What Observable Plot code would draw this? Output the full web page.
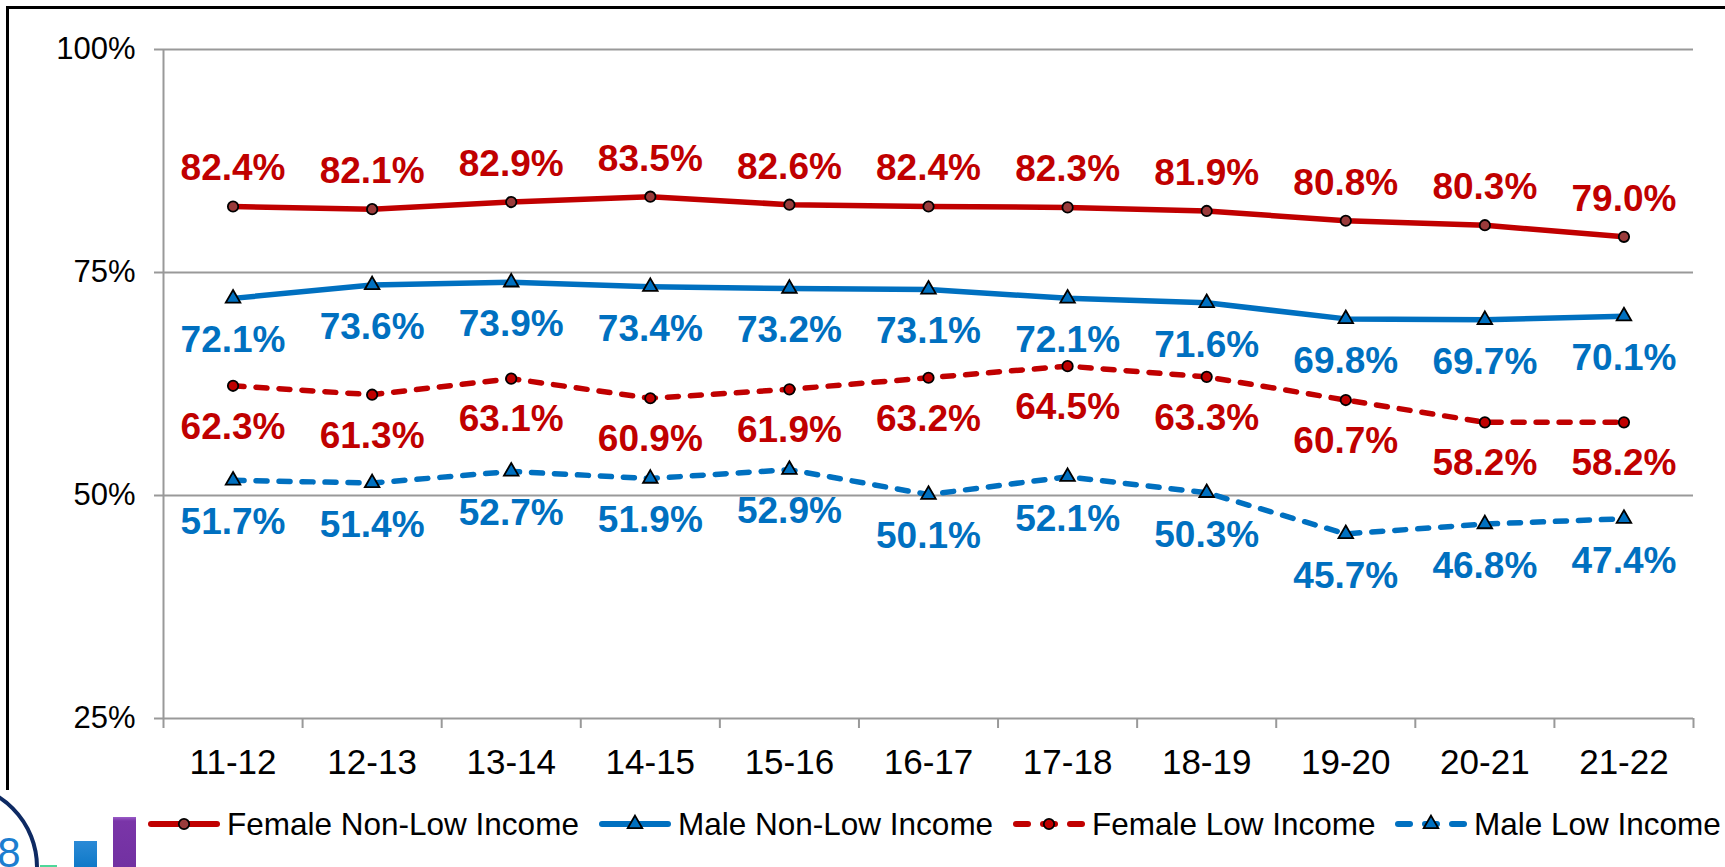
<!DOCTYPE html>
<html>
<head>
<meta charset="utf-8">
<script src="https://cdn.jsdelivr.net/npm/d3@7"></script>
<script src="https://cdn.jsdelivr.net/npm/@observablehq/plot@0.6"></script>
<style>
  body { margin: 0; background: #fff; }
  #wrap { position: relative; width: 1725px; height: 867px; overflow: hidden; font-family: "Liberation Sans", Arial, sans-serif; background: #fff; }
  #frame { position: absolute; left: 6px; top: 6px; width: 1730px; height: 781px; border-top: 3px solid #000; border-left: 3px solid #000; }
  #chart { position: absolute; left: 0; top: 0; }
  .leg { position: absolute; top: 806px; height: 36px; display: flex; align-items: center; font-size: 31.5px; color: #000; white-space: nowrap; }
  .leg svg { margin-right: 7px; }
  .logo-ring { position: absolute; left: -131px; top: 782px; width: 162px; height: 162px; border: 4px solid #0E2A63; border-radius: 50%; }
  .logo-num { position: absolute; left: -26px; top: 832px; font-size: 42px; color: #1C7ED0; line-height: 1; }
  .bar { position: absolute; }
</style>
</head>
<body>
<div id="wrap">
  <div id="frame"></div>
  <div id="chart"></div>
  <div class="logo-ring"></div>
  <div class="logo-num">68</div>
  <div class="bar" style="left:40px;top:865px;width:17px;height:10px;background:#4FD79A"></div>
  <div class="bar" style="left:74px;top:841px;width:23px;height:40px;background:linear-gradient(#2B8AD6,#0070C0)"></div>
  <div class="bar" style="left:113px;top:817px;width:23px;height:60px;background:linear-gradient(#9A5CC8 0px,#7A35A8 4px,#7030A0)"></div>
  <div id="legend"></div>
</div>
<script>
const years = ["11-12", "12-13", "13-14", "14-15", "15-16", "16-17", "17-18", "18-19", "19-20", "20-21", "21-22"];
const femaleNonLow = [82.4, 82.1, 82.9, 83.5, 82.6, 82.4, 82.3, 81.9, 80.8, 80.3, 79.0];
const maleNonLow   = [72.1, 73.6, 73.9, 73.4, 73.2, 73.1, 72.1, 71.6, 69.8, 69.7, 70.1];
const femaleLow    = [62.3, 61.3, 63.1, 60.9, 61.9, 63.2, 64.5, 63.3, 60.7, 58.2, 58.2];
const maleLow      = [51.7, 51.4, 52.7, 51.9, 52.9, 50.1, 52.1, 50.3, 45.7, 46.8, 47.4];
const yTicks = [25, 50, 75, 100];

const RED = "#C00000", BLUE = "#0070C0", GRID = "#999999";

const series = [
  {name: "Female Non-Low Income", values: femaleNonLow, color: RED,  dash: null,    symbol: "circle",   markerFill: "#9A3B3B", r: 5.2, labelDy: -38},
  {name: "Male Non-Low Income",   values: maleNonLow,   color: BLUE, dash: null,    symbol: "triangle", markerFill: BLUE,      r: 5.4, labelDy: 42},
  {name: "Female Low Income",     values: femaleLow,    color: RED,  dash: "11,12", symbol: "circle",   markerFill: RED,       r: 5.2, labelDy: 41},
  {name: "Male Low Income",       values: maleLow,      color: BLUE, dash: "11,12", symbol: "triangle", markerFill: BLUE,      r: 5.4, labelDy: 42}
];

const marks = [
  Plot.gridY([50, 75, 100], {stroke: GRID, strokeWidth: 2, strokeOpacity: 1}),
  Plot.ruleY([25], {stroke: GRID, strokeWidth: 2}),
  Plot.ruleX([-0.5], {stroke: GRID, strokeWidth: 2}),
  Plot.axisY(yTicks, {tickFormat: d => d + "%", tickSize: 9, tickPadding: 19, fontSize: 31, stroke: GRID, strokeWidth: 2, fill: "#000", label: null}),
  Plot.axisX(d3.range(12).map(i => i - 0.5), {tickSize: 10, tickFormat: () => "", stroke: GRID, strokeWidth: 2, label: null}),
  Plot.axisX(d3.range(years.length), {tickSize: 0, tickPadding: 31, tickFormat: i => years[i], fontSize: 35, fill: "#000", label: null})
];

for (const s of series) {
  const rows = s.values.map((v, i) => ({i, v, year: years[i]}));
  marks.push(Plot.line(rows, {x: "i", y: "v", stroke: s.color, strokeWidth: 5.5, strokeDasharray: s.dash || undefined, strokeLinecap: s.dash ? "round" : "butt", strokeLinejoin: "round"}));
}
for (const s of series) {
  const rows = s.values.map((v, i) => ({i, v, year: years[i]}));
  marks.push(Plot.dot(rows, {x: "i", y: "v", symbol: () => s.symbol, r: s.r, fill: s.markerFill, stroke: "#000", strokeWidth: 1.8}));
  marks.push(Plot.text(rows, {x: "i", y: "v", text: d => d.v.toFixed(1) + "%", dy: s.labelDy, fill: s.color, fontSize: 37, fontWeight: "bold"}));
}

const chart = Plot.plot({
  width: 1725,
  height: 790,
  marginTop: 49,
  marginBottom: 72,
  marginLeft: 163,
  marginRight: 32,
  x: {type: "linear", domain: [-0.5, years.length - 0.5], label: null},
  y: {domain: [25, 100], label: null},
  symbol: {type: "identity"},
  style: {fontFamily: "'Liberation Sans', Arial, sans-serif", background: "transparent", overflow: "visible"},
  marks
});
document.getElementById("chart").appendChild(chart);

// Legend
const legendPos = [148, 599, 1013, 1395];
const legend = document.getElementById("legend");
series.forEach((s, k) => {
  const div = document.createElement("div");
  div.className = "leg";
  div.style.left = legendPos[k] + "px";
  const svg = d3.create("svg").attr("width", 72).attr("height", 36);
  if (s.dash) {
    for (const [a, b] of [[3, 15], [30, 42], [57, 69]]) {
      svg.append("line").attr("x1", a).attr("x2", b).attr("y1", 18).attr("y2", 18)
        .attr("stroke", s.color).attr("stroke-width", 6).attr("stroke-linecap", "round");
    }
  } else {
    svg.append("line").attr("x1", 3).attr("x2", 69).attr("y1", 18).attr("y2", 18)
      .attr("stroke", s.color).attr("stroke-width", 6).attr("stroke-linecap", "round");
  }
  const sym = s.symbol === "circle" ? d3.symbolCircle : d3.symbolTriangle;
  svg.append("path").attr("d", d3.symbol(sym, Math.PI * s.r * s.r)())
    .attr("transform", "translate(36,18)").attr("fill", s.markerFill).attr("stroke", "#000").attr("stroke-width", 1.8);
  div.appendChild(svg.node());
  const span = document.createElement("span");
  span.textContent = s.name;
  div.appendChild(span);
  legend.appendChild(div);
});
</script>
</body>
</html>
